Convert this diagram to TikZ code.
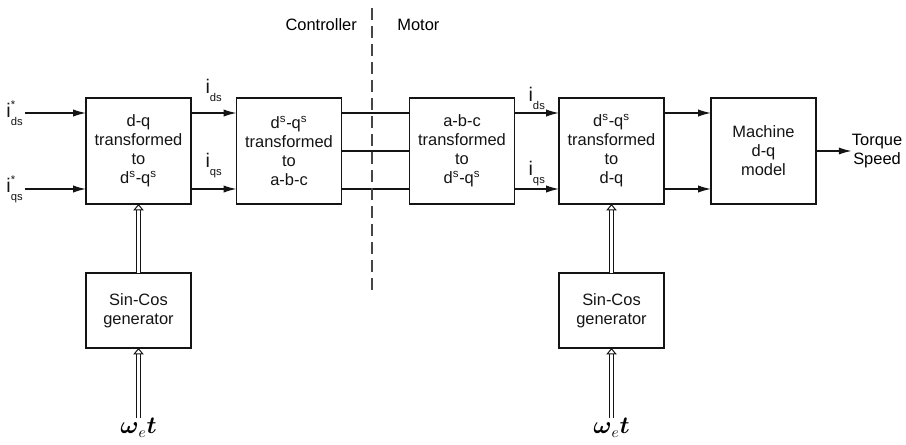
\documentclass[tikz,border=0pt]{standalone}
\usepackage{amsmath}
\usepackage{fontspec}
\setmainfont{Liberation Sans}
\usepackage{tikz}
\usetikzlibrary{positioning,arrows.meta,calc}
\definecolor{inkcol}{RGB}{20,20,20}
\definecolor{divcol}{RGB}{70,70,70}
% current labels: big i, small lowered subscript (and star for references)
\newcommand{\cursub}[1]{\fontsize{14}{16}\selectfont i\raisebox{-5.5pt}{\fontsize{8}{9}\selectfont #1}}
\newcommand{\curref}[1]{\fontsize{14}{16}\selectfont
  i\rlap{\raisebox{6.5pt}{\fontsize{8}{9}\selectfont *}}\raisebox{-5.5pt}{\fontsize{8}{9}\selectfont #1}}

\begin{document}
\begin{tikzpicture}[
  font=\fontsize{11.7}{13.5}\selectfont,
  >={Latex[length=3.2mm,width=1.8mm]},
  block/.style={draw=inkcol, line width=0.32mm, align=center, inner sep=1mm, outer sep=0pt,
                minimum width=26.25mm, minimum height=26.5mm, text=inkcol},
  gen/.style={block, minimum height=18.75mm},
  sig/.style={->, line width=0.32mm, draw=inkcol},
  wire/.style={line width=0.32mm, draw=inkcol},
  phasor/.style={draw=inkcol, line width=0.25mm, double=white, double distance=0.75mm,
                 -{Triangle[open, length=1.6mm, width=2.6mm]}},
  sublbl/.style={inner sep=0.5mm, text=inkcol},
  omega/.style={inner sep=0, font=\fontsize{16}{18}\selectfont},
  divider/.style={draw=divcol, line width=0.5mm, dash pattern=on 3mm off 1.5mm},
]
\useasboundingbox (-34.625mm,37.75mm) rectangle (191.875mm,-73.25mm);

% ---------- forward chain (controller side) ----------
\node[block] (dqs) at (0,0) {d-q\\transformed\\to\\d\textsuperscript{s}-q\textsuperscript{s}};
\node[block, right=11.375mm of dqs]
  (abc) {d\textsuperscript{s}-q\textsuperscript{s}\\transformed\\to\\a-b-c};

% ---------- motor side ----------
\node[block, right=17mm of abc]
  (back) {a-b-c\\transformed\\to\\d\textsuperscript{s}-q\textsuperscript{s}};
\node[block, right=11.125mm of back]
  (dq) {d\textsuperscript{s}-q\textsuperscript{s}\\transformed\\to\\d-q};
\node[block, right=11.75mm of dq] (mach) {Machine\\d-q\\model};
\node[right=8.9mm of mach, inner sep=0, align=center] (out) {Torque\\Speed};

% ---------- reference inputs ----------
\node[sublbl, anchor=east] (idsref) at ($(dqs.west)+(-15.25mm,9.5mm)$) {\curref{ds}};
\node[sublbl, anchor=east] (iqsref) at ($(dqs.west)+(-15.25mm,-9.5mm)$) {\curref{qs}};
\draw[sig] (idsref.east) -- (dqs.west |- idsref.east);
\draw[sig] (iqsref.east) -- (dqs.west |- iqsref.east);

% ---------- signal lines ----------
\draw[sig] ([yshift=9.5mm]dqs.east) -- node[sublbl, above=2.2mm] (ids1) {\cursub{ds}} ([yshift=9.5mm]abc.west);
\draw[sig] ([yshift=-9.5mm]dqs.east) -- node[sublbl, above=2.2mm] (iqs1) {\cursub{qs}} ([yshift=-9.5mm]abc.west);
\foreach \dy in {9.5mm,0mm,-9.5mm}
  \draw[wire] ([yshift=\dy]abc.east) -- ([yshift=\dy]back.west);
\draw[sig] ([yshift=9.5mm]back.east) -- node[sublbl, above=0.2mm] (ids2) {\cursub{ds}} ([yshift=9.5mm]dq.west);
\draw[sig] ([yshift=-9.5mm]back.east) -- node[sublbl, above=0.2mm] (iqs2) {\cursub{qs}} ([yshift=-9.5mm]dq.west);
\draw[sig] ([yshift=9.5mm]dq.east) -- ([yshift=9.5mm]mach.west);
\draw[sig] ([yshift=-9.5mm]dq.east) -- ([yshift=-9.5mm]mach.west);
\draw[sig] (mach) -- (out);

% ---------- sin-cos generators ----------
\node[gen, below=17.25mm of dqs] (sc1) {Sin-Cos\\generator};
\node[gen, below=17.25mm of dq] (sc2) {Sin-Cos\\generator};
\node[omega, below=17.5mm of sc1] (wt1) {$\boldsymbol{\omega}_e\boldsymbol{t}$};
\node[omega, below=17.5mm of sc2] (wt2) {$\boldsymbol{\omega}_e\boldsymbol{t}$};
\draw[phasor] (sc1) -- (dqs);
\draw[phasor] (sc2) -- (dq);
\draw[phasor] (wt1) -- (sc1);
\draw[phasor] (wt2) -- (sc2);

% ---------- controller / motor split ----------
\coordinate (split) at ($(abc.east)!0.45!(back.west)$);
\coordinate (divtop) at ($(split)+(0,35.75mm)$);
\coordinate (divbot) at ($(split)+(0,-36mm)$);
\draw[divider] (divtop) -- (divbot);
\node[anchor=east, inner sep=0] (ctrl) at ($(divtop)+(-3.75mm,-4.25mm)$) {Controller};
\node[anchor=west, inner sep=0] (motor) at ($(divtop)+(6.25mm,-4.25mm)$) {Motor};

\end{tikzpicture}
\end{document}
